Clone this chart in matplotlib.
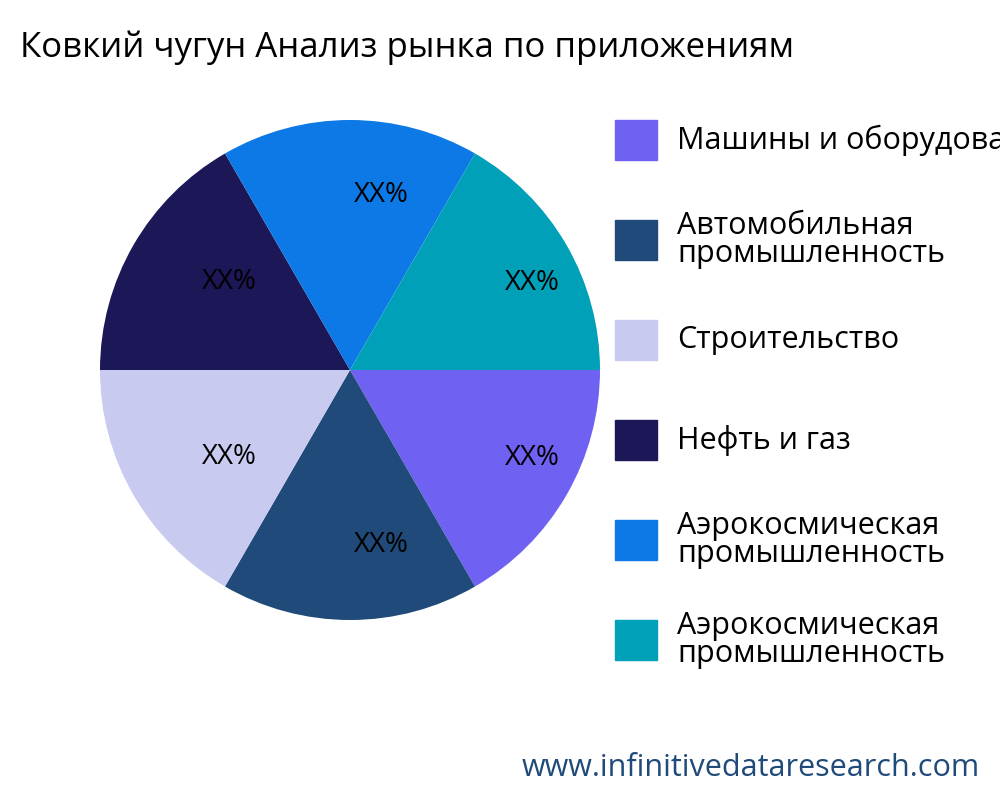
import matplotlib
matplotlib.use("Agg")
import matplotlib.pyplot as plt
from matplotlib.patches import Rectangle

plt.rcParams['font.family'] = ['Open Sans', 'DejaVu Sans']

categories = ["Машины и оборудование", "Автомобильная\nпромышленность", "Строительство",
              "Нефть и газ", "Аэрокосмическая\nпромышленность", "Аэрокосмическая\nпромышленность"]
values = [1, 1, 1, 1, 1, 1]
labels = ["XX%"] * 6
colors = ["#6f61f2", "#1f4a7a", "#c9caf0", "#1c1757", "#0c79e6", "#00a0b8"]

fig = plt.figure(figsize=(10, 8), dpi=100)
ax = fig.add_axes([0.10, 0.225, 0.50, 0.625])
wedges, texts = ax.pie(values, colors=colors, startangle=0, counterclock=False,
                       labels=labels, labeldistance=0.70, radius=1.0,
                       textprops=dict(fontsize=20, color="black", va="center"))
for t in texts:
    x, y = t.get_position()
    t.set_position((x + 0.125, y))
    t.set_horizontalalignment("center")
ax.set_aspect("equal")
ax.set_xlim(-1, 1); ax.set_ylim(-1, 1)

fig.text(0.02, 0.94, "Ковкий чугун Анализ рынка по приложениям", fontsize=25, va="center")

for i, (c, lab) in enumerate(zip(colors, categories)):
    yc = 140 + 100 * i
    fig.patches.append(Rectangle((615 / 1000, 1 - (yc + 20) / 800), 42 / 1000, 40 / 800,
                                 transform=fig.transFigure, color=c))
    fig.text(677 / 1000, 1 - yc / 800, lab, fontsize=22, va="center", ha="left",
             linespacing=0.9)

fig.text(0.98, 0.04, "www.infinitivedataresearch.com", fontsize=22, color="#1f4a7a",
         ha="right", va="center")

fig.savefig("out.png", dpi=100)
